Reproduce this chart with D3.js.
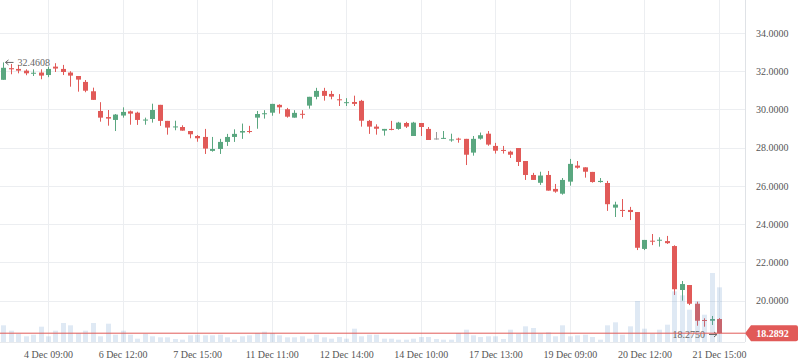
<!DOCTYPE html>
<html lang="en">
<head>
<meta charset="UTF-8">
<title>Candles</title>
<style>
  body { margin: 0; background: #fff; }
  text { font-family: "Liberation Serif", "Times New Roman", serif; }
</style>
</head>
<body>
<script src="https://cdn.jsdelivr.net/npm/d3@7/dist/d3.min.js"></script>
<script>
  var width = 798, height = 363;
  var plotRight = 745, plotBottom = 342;

  // OHLC, one entry per candle
  var open = [31.55, 32.16, 32.12, 32.03, 31.87, 31.93, 31.80, 32.24, 32.12, 31.93,
    31.75, 31.44, 30.95, 29.92, 29.60, 29.45, 29.68, 29.90, 29.83, 29.44,
    29.50, 30.24, 29.40, 29.08, 29.08, 28.87, 28.61, 28.56, 27.83, 27.93,
    28.30, 28.56, 28.79, 28.87, 29.57, 29.75, 29.83, 30.24, 30.01, 29.57,
    29.77, 30.20, 30.66, 30.97, 30.81, 30.53, 30.33, 30.39, 30.45, 29.40,
    29.10, 28.89, 28.98, 28.98, 29.29, 28.61, 29.29, 28.98, 28.48, 28.47,
    28.40, 28.47, 28.46, 27.74, 28.47, 28.73, 28.09, 27.88, 27.79, 27.98,
    27.30, 26.57, 26.16, 26.57, 25.84, 25.59, 26.22, 27.06, 26.97, 26.73,
    26.20, 26.15, 24.86, 24.74, 24.74, 24.63, 22.70, 23.13, 23.13, 23.11,
    22.85, 20.55, 20.81, 19.83, 18.98, 18.94, 19.03];
  var high = [32.4608, 32.38, 32.33, 32.10, 32.10, 32.10, 32.24, 32.42, 32.33, 32.00,
    31.75, 31.54, 31.14, 30.38, 29.97, 29.76, 30.11, 29.94, 29.88, 29.57,
    30.30, 30.24, 29.40, 29.41, 29.17, 28.87, 28.66, 28.98, 28.56, 28.46,
    28.72, 28.96, 29.26, 29.14, 29.92, 29.96, 30.29, 30.27, 30.08, 29.96,
    29.96, 30.66, 31.13, 31.13, 30.97, 30.80, 30.59, 30.72, 30.50, 29.45,
    29.22, 28.98, 29.40, 29.35, 29.35, 29.35, 29.29, 29.08, 28.82, 28.87,
    28.73, 28.52, 28.46, 28.61, 28.79, 28.87, 28.25, 28.09, 27.84, 27.98,
    27.30, 26.68, 26.74, 26.78, 26.10, 26.41, 27.41, 27.30, 26.97, 26.73,
    26.41, 26.26, 25.17, 25.31, 24.90, 24.63, 23.17, 23.48, 23.31, 23.38,
    22.89, 21.02, 20.81, 19.94, 19.07, 19.19, 19.08];
  var low = [31.55, 31.84, 31.89, 31.79, 31.75, 31.58, 31.69, 31.96, 31.80, 31.19,
    30.93, 30.90, 30.50, 29.36, 29.15, 28.87, 29.57, 29.20, 29.19, 29.20,
    29.31, 29.14, 28.68, 28.91, 28.89, 28.49, 28.31, 27.67, 27.79, 27.67,
    28.09, 28.30, 28.46, 28.75, 28.99, 29.52, 29.67, 29.78, 29.57, 29.57,
    29.52, 30.04, 30.53, 30.46, 30.53, 30.18, 30.18, 30.18, 29.10, 28.72,
    28.68, 28.63, 28.91, 28.94, 29.03, 28.61, 28.61, 28.40, 28.42, 28.47,
    28.31, 28.26, 27.09, 27.58, 28.42, 28.10, 27.69, 27.69, 27.46, 27.04,
    26.31, 26.31, 26.05, 25.75, 25.64, 25.54, 26.01, 26.90, 26.43, 26.17,
    26.17, 24.69, 24.37, 24.37, 24.21, 22.64, 22.64, 22.90, 22.82, 22.96,
    20.29, 19.99, 19.76, 18.68, 18.63, 18.72, 18.2750];
  var close = [32.18, 32.10, 32.03, 31.89, 31.92, 31.77, 32.12, 32.14, 31.96, 31.77,
    31.56, 30.98, 30.50, 29.57, 29.52, 29.73, 29.87, 29.78, 29.45, 29.47,
    29.97, 29.40, 29.05, 29.11, 28.89, 28.70, 28.49, 27.95, 27.93, 28.30,
    28.56, 28.72, 28.87, 28.82, 29.76, 29.80, 30.29, 30.11, 29.62, 29.82,
    29.73, 30.66, 30.97, 30.71, 30.67, 30.50, 30.38, 30.29, 29.41, 29.10,
    28.99, 28.98, 28.93, 29.31, 29.10, 29.31, 29.08, 28.40, 28.48, 28.51,
    28.43, 28.42, 27.63, 28.46, 28.65, 28.16, 27.84, 27.83, 27.63, 27.25,
    26.57, 26.31, 26.54, 25.75, 25.70, 26.31, 27.15, 26.95, 26.74, 26.20,
    26.26, 25.04, 25.02, 24.69, 24.63, 22.76, 23.17, 23.08, 23.18, 23.00,
    20.59, 20.86, 19.83, 18.94, 18.93, 19.03, 18.2892];
  var volume = [16.7, 11.3, 8.3, 5.7, 7.3, 15.3, 5.7, 11.3, 19.0, 16.7,
    9.0, 11.3, 19.0, 5.7, 18.3, 7.3, 11.3, 7.3, 3.3, 8.3,
    5.7, 4.7, 4.7, 3.0, 2.3, 6.7, 7.3, 6.7, 6.7, 7.3,
    4.7, 2.3, 5.7, 6.7, 9.0, 10.3, 9.0, 6.7, 4.7, 4.7,
    5.7, 3.3, 7.3, 4.7, 3.3, 5.0, 3.3, 13.3, 5.7, 7.3,
    7.3, 3.3, 3.3, 2.3, 2.3, 3.3, 5.0, 5.0, 3.0, 2.3,
    2.3, 9.0, 12.3, 6.7, 5.0, 5.7, 5.7, 3.0, 12.3, 8.3,
    15.7, 14.0, 8.3, 9.7, 5.7, 16.7, 5.7, 6.7, 7.3, 5.0,
    2.3, 16.7, 19.7, 7.3, 15.7, 41.0, 13.3, 8.3, 12.3, 17.3,
    50.7, 46.7, 32.3, 40.7, 27.3, 69.0, 54.7];

  var tickIndex = [6, 16, 26, 36, 46, 56, 66, 76, 86, 96];
  var tickLabels = ["4 Dec 09:00", "6 Dec 12:00", "7 Dec 15:00", "11 Dec 11:00", "12 Dec 14:00",
    "14 Dec 10:00", "17 Dec 13:00", "19 Dec 09:00", "20 Dec 12:00", "21 Dec 15:00"];
  var priceTicks = [20, 22, 24, 26, 28, 30, 32, 34];
  var lastPrice = 18.2892;

  var upColor = "#5aa780", downColor = "#e15a58", flatColor = "#999999";
  var gridColor = "#eceef1";

  var svg = d3.select("body").append("svg")
    .attr("width", width)
    .attr("height", height);

  var x = d3.scaleLinear().domain([0, open.length - 1]).range([3.3, 719]);
  var y = d3.scaleLinear().domain([20, 34]).range([300.5, 33]);
  var vy = d3.scaleLinear().domain([0, 100]).range([plotBottom, plotBottom - 100]);

  // grid
  svg.append("g").selectAll("line").data(priceTicks).enter().append("line")
    .attr("x1", 0).attr("x2", plotRight)
    .attr("y1", function (d) { return Math.round(y(d)) + 0.5; })
    .attr("y2", function (d) { return Math.round(y(d)) + 0.5; })
    .attr("stroke", gridColor);
  svg.append("g").selectAll("line").data(tickIndex).enter().append("line")
    .attr("y1", 0).attr("y2", plotBottom)
    .attr("x1", function (d) { return Math.round(x(d)) + 0.5; })
    .attr("x2", function (d) { return Math.round(x(d)) + 0.5; })
    .attr("stroke", gridColor);

  // axes frame
  svg.append("line").attr("x1", plotRight + 0.5).attr("x2", plotRight + 0.5)
    .attr("y1", 0).attr("y2", plotBottom).attr("stroke", "#dfe2e6");
  svg.append("line").attr("x1", 0).attr("x2", plotRight)
    .attr("y1", plotBottom + 0.5).attr("y2", plotBottom + 0.5).attr("stroke", "#e8eaed");

  // candles
  var idx = d3.range(open.length);
  function col(i) {
    if (close[i] > open[i]) return upColor;
    if (close[i] < open[i]) return downColor;
    return flatColor;
  }
  var candles = svg.append("g").selectAll("g").data(idx).enter().append("g");
  candles.append("rect")
    .attr("x", function (i) { return Math.round(x(i)); })
    .attr("width", 1)
    .attr("y", function (i) { return y(high[i]); })
    .attr("height", function (i) { return Math.max(1, y(low[i]) - y(high[i])); })
    .attr("fill", col);
  candles.append("rect")
    .attr("x", function (i) { return Math.round(x(i)) - 2; })
    .attr("width", 5)
    .attr("y", function (i) { return y(Math.max(open[i], close[i])); })
    .attr("height", function (i) { return Math.max(1, Math.abs(y(open[i]) - y(close[i]))); })
    .attr("fill", col);

  // volume bars (translucent, over the candles)
  svg.append("g").selectAll("rect").data(idx).enter().append("rect")
    .attr("x", function (i) { return Math.round(x(i)) - 2; })
    .attr("width", 5)
    .attr("y", function (i) { return vy(volume[i]); })
    .attr("height", function (i) { return plotBottom - vy(volume[i]); })
    .attr("fill", "rgba(93,146,201,0.2)");

  // price axis
  var yAxis = d3.axisRight(y).tickValues(priceTicks).tickSize(0).tickPadding(11)
    .tickFormat(d3.format(".4f"));
  var gy = svg.append("g").attr("transform", "translate(" + plotRight + ",0)").call(yAxis);
  gy.select(".domain").remove();
  gy.selectAll("text").attr("fill", "#555").style("font-size", "10px")
    .style("font-family", "'Liberation Serif', serif");

  // time axis
  var xAxis = d3.axisBottom(x).tickValues(tickIndex).tickSize(0).tickPadding(9)
    .tickFormat(function (d) { return tickLabels[tickIndex.indexOf(d)]; });
  var gx = svg.append("g").attr("transform", "translate(0," + plotBottom + ")").call(xAxis);
  gx.select(".domain").remove();
  gx.selectAll("text").attr("fill", "#555").style("font-size", "10px")
    .style("font-family", "'Liberation Serif', serif");

  // max / min markers
  var hi = d3.maxIndex(high), lo = d3.minIndex(low);
  var hx = Math.round(x(hi)) + 2.5, hy = y(high[hi]);
  svg.append("path")
    .attr("d", "M" + (hx + 8) + "," + hy + "H" + hx + "M" + (hx + 3) + "," + (hy - 2.5) + "L" + hx + "," + hy + "L" + (hx + 3) + "," + (hy + 2.5))
    .attr("stroke", "#666").attr("fill", "none");
  svg.append("text").attr("x", hx + 12).attr("y", hy).attr("dy", "0.35em")
    .attr("fill", "#666").style("font-size", "10px").text(high[hi].toFixed(4));

  var lx = Math.round(x(lo)) - 2, ly = y(low[lo]) + 1;
  svg.append("path")
    .attr("d", "M" + (lx - 8) + "," + ly + "H" + lx + "M" + (lx - 3) + "," + (ly - 2.5) + "L" + lx + "," + ly + "L" + (lx - 3) + "," + (ly + 2.5))
    .attr("stroke", "#666").attr("fill", "none");
  svg.append("text").attr("x", lx - 12).attr("y", ly).attr("dy", "0.35em")
    .attr("text-anchor", "end")
    .attr("fill", "#666").style("font-size", "10px").text(low[lo].toFixed(4));

  // last price line + label
  var py = y(lastPrice);
  svg.append("line").attr("x1", 0).attr("x2", plotRight)
    .attr("y1", py).attr("y2", py).attr("stroke", downColor).attr("stroke-width", 1);
  svg.append("path")
    .attr("d", "M" + plotRight + "," + py + "L" + (plotRight + 6) + "," + (py - 8) +
      "H" + (width - 2) + "Q" + width + "," + (py - 8) + " " + width + "," + (py - 6) +
      "V" + (py + 6) + "Q" + width + "," + (py + 8) + " " + (width - 2) + "," + (py + 8) +
      "H" + (plotRight + 6) + "Z")
    .attr("fill", downColor);
  svg.append("text").attr("x", 772.5).attr("y", py).attr("dy", "0.35em")
    .attr("text-anchor", "middle").attr("fill", "#fff")
    .style("font-size", "10px").style("font-weight", "bold")
    .text(lastPrice.toFixed(4));
</script>
</body>
</html>
